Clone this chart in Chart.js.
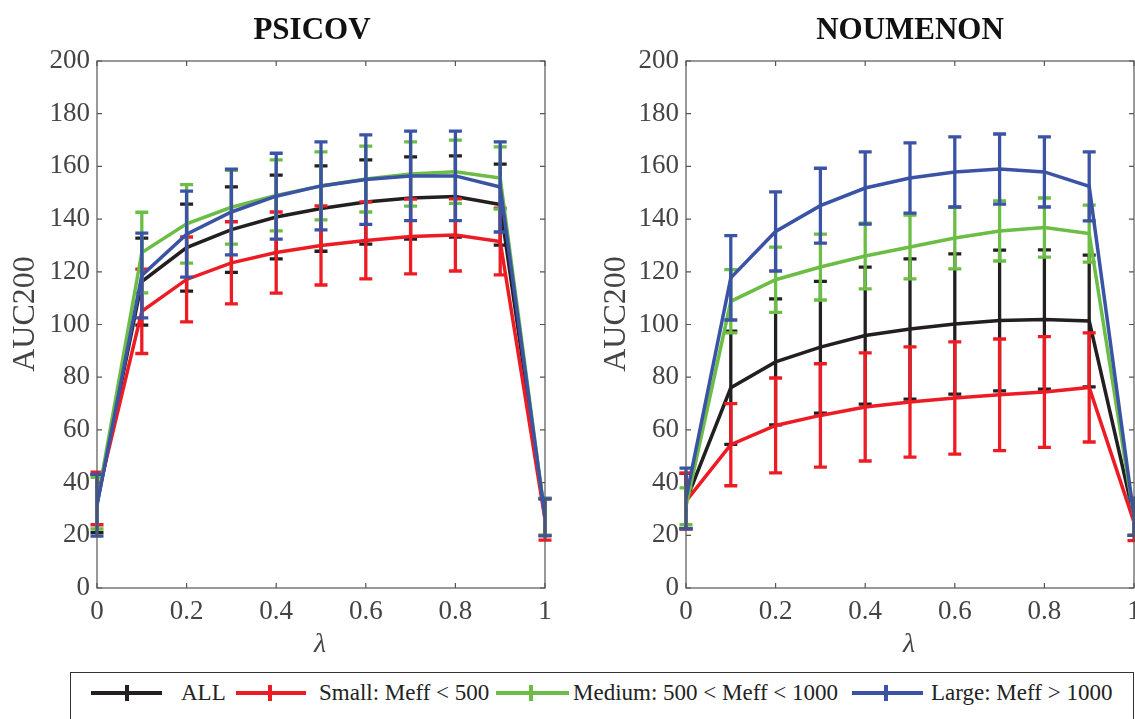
<!DOCTYPE html>
<html><head><meta charset="utf-8">
<script src="https://cdn.jsdelivr.net/npm/chart.js@4.4.1/dist/chart.umd.min.js"></script>
<style>
html,body{margin:0;padding:0;background:#fff;overflow:hidden;}
#wrap{position:relative;width:1135px;height:719px;overflow:hidden;background:#fff;}
canvas{position:absolute;top:0;}
#c1{left:0;}
#c2{left:592px;}
#legendBox{position:absolute;left:70px;top:672px;width:1064px;height:70px;border:1.5px solid #333;box-sizing:border-box;}
.sw{position:absolute;height:4px;top:691px;}
.tk{position:absolute;width:4px;height:16px;top:685px;}
.lt{position:absolute;top:677px;height:32px;line-height:32px;font-family:'Liberation Serif',serif;font-size:23px;color:#222;white-space:nowrap;}
</style></head>
<body>
<div id="wrap">
<canvas id="c1" width="580" height="665"></canvas>
<canvas id="c2" width="600" height="665"></canvas>
<div id="legendBox"></div>
<div id="legendItems"></div>
</div>
<script>
// ---------- data ----------
const lambda = [0, 0.1, 0.2, 0.3, 0.4, 0.5, 0.6, 0.7, 0.8, 0.9, 1];
const xTickValues = [0, 0.2, 0.4, 0.6, 0.8, 1];
const xTickLabels = ['0', '0.2', '0.4', '0.6', '0.8', '1'];
const yTickValues = [0, 20, 40, 60, 80, 100, 120, 140, 160, 180, 200];
const seriesNames = ['ALL', 'Small: Meff < 500', 'Medium: 500 < Meff < 1000', 'Large: Meff > 1000'];
const seriesColors = ['#231f20', '#ed1c24', '#6cbd45', '#3a53a4'];

// PSICOV
const psicovAllMean    = [32, 116.3, 129.2, 136.0, 140.8, 144.0, 146.5, 148.0, 148.6, 145.5, 27];
const psicovAllErr     = [11, 16.5, 16.5, 16.2, 15.9, 16.2, 16.0, 15.6, 15.4, 15.4, 7];
const psicovSmallMean  = [34, 105.0, 117.1, 123.4, 127.3, 130.0, 131.9, 133.4, 134.0, 131.5, 26];
const psicovSmallErr   = [10, 16.0, 16.1, 15.6, 15.4, 15.0, 14.6, 14.2, 13.7, 12.7, 7.8];
const psicovMediumMean = [32.2, 127.3, 138.2, 144.5, 149.0, 152.6, 155.2, 157.1, 158.0, 155.6, 27];
const psicovMediumErr  = [9.8, 15.3, 14.9, 14.0, 13.5, 12.9, 12.5, 12.2, 12.0, 11.8, 7];
const psicovLargeMean  = [31.4, 118.6, 134.3, 142.7, 148.7, 152.6, 155.0, 156.4, 156.4, 152.2, 26.8];
const psicovLargeErr   = [11.7, 16.1, 16.3, 16.3, 16.3, 16.7, 17.0, 17.0, 17.0, 17.1, 7];

// NOUMENON
const noumAllMean    = [33, 76.0, 85.8, 91.4, 95.8, 98.3, 100.2, 101.5, 101.9, 101.3, 27];
const noumAllErr     = [10.5, 21.5, 23.9, 25.0, 26.0, 26.6, 26.6, 26.7, 26.4, 25.0, 7];
const noumSmallMean  = [33, 54.4, 61.7, 65.5, 68.7, 70.6, 72.1, 73.3, 74.4, 76.1, 25];
const noumSmallErr   = [10.6, 15.6, 18.0, 19.6, 20.5, 20.9, 21.3, 21.2, 21.0, 20.7, 7];
const noumMediumMean = [31, 108.8, 117.0, 121.8, 126.0, 129.4, 132.8, 135.5, 136.8, 134.5, 27];
const noumMediumErr  = [7, 12.0, 12.4, 12.5, 12.5, 12.1, 11.7, 11.4, 11.2, 10.8, 7];
const noumLargeMean  = [34, 117.7, 135.3, 145.1, 151.8, 155.6, 157.9, 159.0, 157.9, 152.4, 27];
const noumLargeErr   = [11.5, 16.0, 15.0, 14.2, 13.7, 13.3, 13.3, 13.3, 13.3, 13.1, 7];

// ---------- helpers ----------
const FONT = "'Liberation Serif', 'Times New Roman', serif";

function buildDatasets(means, errs) {
  return means.map((m, k) => ({
    label: seriesNames[k],
    data: lambda.map((x, i) => ({ x: x, y: m[i] })),
    errors: errs[k],
    borderColor: seriesColors[k],
    backgroundColor: seriesColors[k],
    borderWidth: 3.5,
    pointRadius: 0,
    tension: 0,
    fill: false,
    order: 4 - k
  }));
}

const errorBarPlugin = {
  id: 'errorBars',
  afterDatasetDraw(chart, args) {
    const ds = chart.data.datasets[args.index];
    if (!ds.errors) return;
    const xs = chart.scales.x, ys = chart.scales.y;
    const ctx = chart.ctx;
    ctx.save();
    ctx.strokeStyle = ds.borderColor;
    ctx.lineWidth = 3.3;
    ctx.lineCap = 'butt';
    ds.data.forEach((p, i) => {
      const e = ds.errors[i];
      const px = xs.getPixelForValue(p.x);
      const yt = ys.getPixelForValue(p.y + e);
      const yb = ys.getPixelForValue(p.y - e);
      const hw = 6.5;
      ctx.beginPath();
      ctx.moveTo(px, yt); ctx.lineTo(px, yb);
      ctx.moveTo(px - hw, yt); ctx.lineTo(px + hw, yt);
      ctx.moveTo(px - hw, yb); ctx.lineTo(px + hw, yb);
      ctx.stroke();
    });
    ctx.restore();
  }
};

const framePlugin = {
  id: 'frame',
  afterDraw(chart) {
    const { ctx, chartArea: a } = chart;
    const xs = chart.scales.x, ys = chart.scales.y;
    ctx.save();
    ctx.strokeStyle = '#555';
    ctx.lineWidth = 1.2;
    ctx.strokeRect(a.left, a.top, a.right - a.left, a.bottom - a.top);
    ctx.beginPath();
    const L = 5;
    xTickValues.forEach(v => {
      const x = xs.getPixelForValue(v);
      ctx.moveTo(x, a.bottom); ctx.lineTo(x, a.bottom - L);
      ctx.moveTo(x, a.top); ctx.lineTo(x, a.top + L);
    });
    yTickValues.forEach(v => {
      const y = ys.getPixelForValue(v);
      ctx.moveTo(a.left, y); ctx.lineTo(a.left + L, y);
      ctx.moveTo(a.right, y); ctx.lineTo(a.right - L, y);
    });
    ctx.stroke();
    ctx.restore();
  }
};

const textPlugin = {
  id: 'texts',
  afterDraw(chart, args, opts) {
    const ctx = chart.ctx;
    ctx.save();
    ctx.textAlign = 'center';
    ctx.textBaseline = 'middle';
    ctx.fillStyle = '#111';
    ctx.font = 'bold 31px ' + FONT;
    ctx.fillText(opts.title, opts.titlePos[0], opts.titlePos[1]);
    ctx.fillStyle = '#444';
    ctx.font = 'italic 28px ' + FONT;
    ctx.fillText('λ', opts.xTitlePos[0], opts.xTitlePos[1]);
    ctx.font = '32px ' + FONT;
    ctx.translate(opts.yTitlePos[0], opts.yTitlePos[1]);
    ctx.rotate(-Math.PI / 2);
    ctx.fillText('AUC200', 0, 0);
    ctx.restore();
  }
};

function makeChart(id, datasets, cfg) {
  return new Chart(document.getElementById(id), {
    type: 'line',
    data: { datasets: datasets },
    options: {
      responsive: false,
      animation: false,
      devicePixelRatio: 1,
      layout: { padding: { top: 61, right: cfg.padRight, bottom: 0, left: 0 } },
      plugins: {
        legend: { display: false },
        tooltip: { enabled: false },
        title: { display: false },
        texts: cfg.texts
      },
      scales: {
        x: {
          type: 'linear', min: 0, max: 1,
          afterBuildTicks: s => { s.ticks = xTickValues.map(v => ({ value: v })); },
          grid: { display: false, drawTicks: false },
          border: { display: false },
          ticks: {
            font: { family: FONT, size: 27 }, color: '#444', padding: 8,
            maxRotation: 0, autoSkip: false,
            callback: (v) => { const i = xTickValues.indexOf(v); return i >= 0 ? xTickLabels[i] : ''; }
          },
          afterFit: s => { s.height = 77; }
        },
        y: {
          type: 'linear', min: 0, max: 200,
          afterBuildTicks: s => { s.ticks = yTickValues.map(v => ({ value: v })); },
          grid: { display: false, drawTicks: false },
          border: { display: false },
          ticks: { font: { family: FONT, size: 27 }, color: '#444', padding: 7, autoSkip: false },
          afterFit: s => { s.width = cfg.yWidth; }
        }
      }
    },
    plugins: [errorBarPlugin, framePlugin, textPlugin]
  });
}

makeChart('c1',
  buildDatasets([psicovAllMean, psicovSmallMean, psicovMediumMean, psicovLargeMean],
                [psicovAllErr, psicovSmallErr, psicovMediumErr, psicovLargeErr]),
  { yWidth: 97, padRight: 35,
    texts: { title: 'PSICOV', titlePos: [312, 31], xTitlePos: [320, 645], yTitlePos: [26, 314] } });

makeChart('c2',
  buildDatasets([noumAllMean, noumSmallMean, noumMediumMean, noumLargeMean],
                [noumAllErr, noumSmallErr, noumMediumErr, noumLargeErr]),
  { yWidth: 94, padRight: 58,
    texts: { title: 'NOUMENON', titlePos: [318, 31], xTitlePos: [317, 645], yTitlePos: [25, 314] } });

// ---------- legend ----------
const legendSampleLeft = [91, 236, 496, 852];
const legendSampleWidth = [71, 70, 73, 71];
const legendTickX = [127, 270, 531, 886];
const legendTextLeft = [181, 319, 573, 931];
const li = document.getElementById('legendItems');
seriesNames.forEach((name, k) => {
  const s = document.createElement('div');
  s.className = 'sw';
  s.style.left = legendSampleLeft[k] + 'px';
  s.style.width = legendSampleWidth[k] + 'px';
  s.style.background = seriesColors[k];
  li.appendChild(s);
  const t = document.createElement('div');
  t.className = 'tk';
  t.style.left = (legendTickX[k] - 2) + 'px';
  t.style.background = seriesColors[k];
  li.appendChild(t);
  const l = document.createElement('div');
  l.className = 'lt';
  l.style.left = legendTextLeft[k] + 'px';
  l.textContent = name;
  li.appendChild(l);
});
</script>
</body></html>
